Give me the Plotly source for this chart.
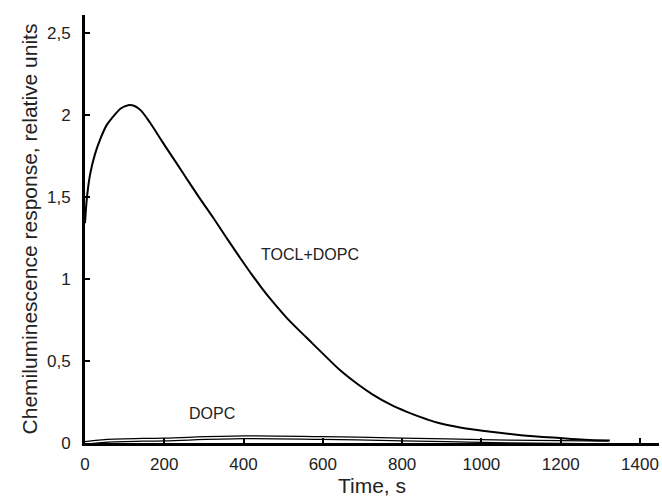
import plotly.graph_objects as go

# TOCL+DOPC series (time s, response)
tocl_t = [0, 5, 13, 25, 38, 55, 71, 90, 109, 125, 140, 165, 197, 230, 257, 290, 323, 360, 391, 420, 446, 474, 510, 560, 600, 643, 690, 726, 770, 812, 862, 895, 946, 1029, 1100, 1198, 1260, 1324]
tocl_y = [1.34, 1.50, 1.64, 1.76, 1.85, 1.94, 1.99, 2.04, 2.06, 2.055, 2.03, 1.95, 1.83, 1.71, 1.61, 1.49, 1.375, 1.24, 1.13, 1.03, 0.945, 0.86, 0.76, 0.64, 0.545, 0.445, 0.355, 0.295, 0.235, 0.19, 0.145, 0.12, 0.095, 0.067, 0.048, 0.03, 0.02, 0.015]

# DOPC series
dopc_t = [0, 50, 200, 400, 600, 800, 1000, 1200, 1320]
dopc_y = [0.0, 0.012, 0.022, 0.035, 0.03, 0.022, 0.012, 0.006, 0.003]

y_tickvals = [0, 0.5, 1, 1.5, 2, 2.5]
y_ticktext = ["0", "0,5", "1", "1,5", "2", "2,5"]
x_tickvals = [0, 200, 400, 600, 800, 1000, 1200, 1400]

fig = go.Figure()
fig.add_trace(go.Scatter(x=dopc_t, y=dopc_y, mode="lines", line=dict(color="black", width=4, shape="spline"), showlegend=False, hoverinfo="skip"))
fig.add_trace(go.Scatter(x=dopc_t, y=dopc_y, mode="lines", line=dict(color="white", width=1.5, shape="spline"), showlegend=False, hoverinfo="skip"))
fig.add_trace(go.Scatter(x=tocl_t, y=tocl_y, mode="lines", line=dict(color="black", width=2, shape="spline"), showlegend=False))

font_family = "Liberation Sans, Arial, sans-serif"
fig.add_annotation(x=567, y=1.15, text="TOCL+DOPC", showarrow=False, font=dict(family=font_family, size=16, color="#222"))
fig.add_annotation(x=320, y=0.18, text="DOPC", showarrow=False, font=dict(family=font_family, size=16, color="#222"))

fig.update_layout(
    width=662, height=499,
    margin=dict(l=85, r=3, t=15, b=56),
    paper_bgcolor="white", plot_bgcolor="white",
    font=dict(family=font_family, color="#222"),
)
fig.update_xaxes(
    range=[0, 1448], tickvals=x_tickvals, ticks="inside", ticklen=5, tickwidth=2, tickcolor="black",
    showline=True, linecolor="black", linewidth=3, showgrid=False, zeroline=False,
    ticklabelstandoff=4,
    tickfont=dict(size=17), title=dict(text="Time, s", font=dict(size=21), standoff=3),
)
fig.update_yaxes(
    range=[0, 2.61], tickvals=y_tickvals, ticktext=y_ticktext, ticks="inside", ticklen=5, tickwidth=2, tickcolor="black",
    showline=True, linecolor="black", linewidth=3, showgrid=False, zeroline=False,
    ticklabelstandoff=8,
    tickfont=dict(size=17), title=dict(text="Chemiluminescence response, relative units", font=dict(size=21), standoff=4),
)
fig.write_html("out.html")
